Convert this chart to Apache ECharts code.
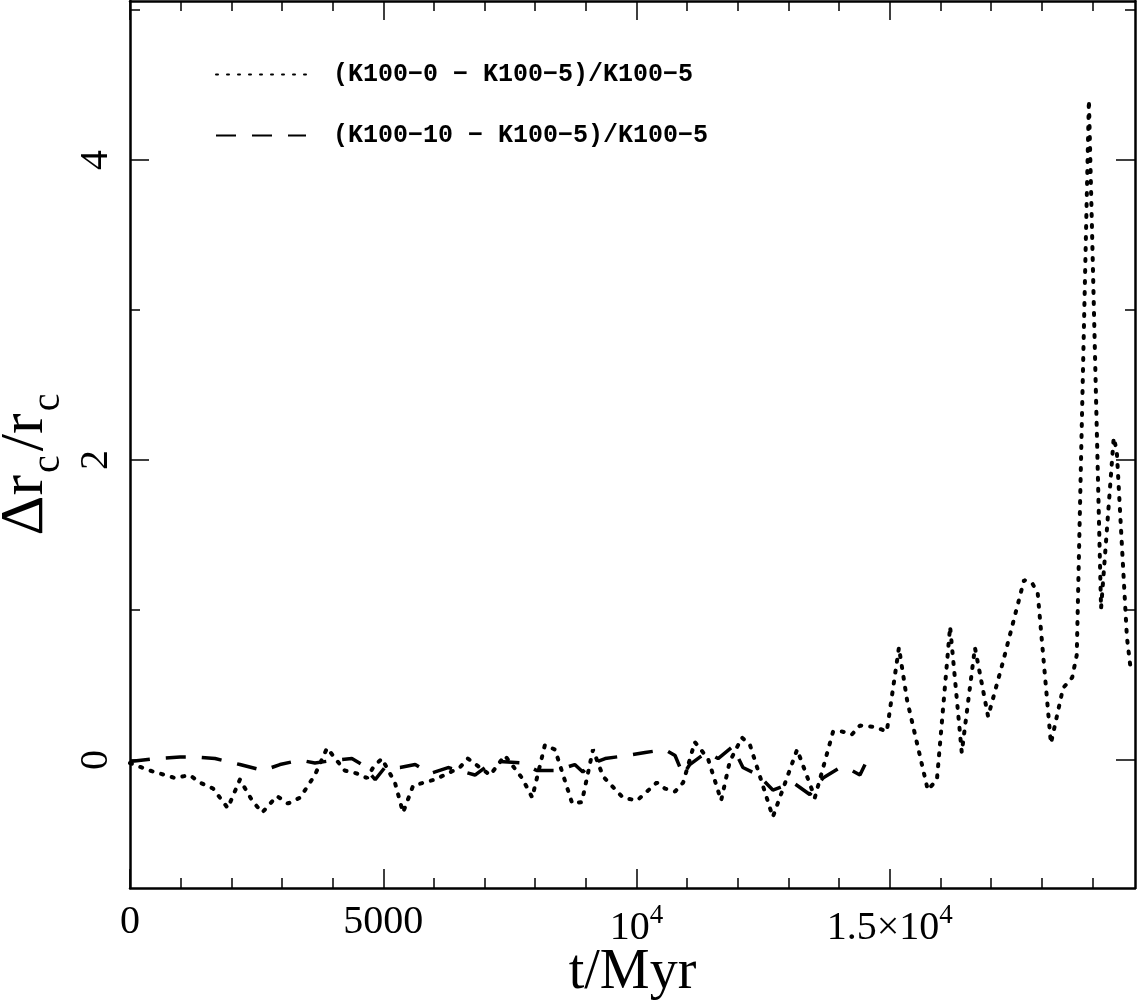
<!DOCTYPE html>
<html>
<head>
<meta charset="utf-8">
<script src="https://cdn.jsdelivr.net/npm/echarts@6/dist/echarts.min.js"></script>
<style>
html, body { margin: 0; padding: 0; background: #fff; }
#main { width: 1137px; height: 1002px; }
</style>
</head>
<body>
<div id="main"></div>
<script>
// (K100-0 - K100-5)/K100-5, dotted
var k0Time = [0, 390, 890, 1180, 1380, 1640, 1930, 2170, 2410, 2610, 2900, 3120, 3360, 3650, 3890, 4240, 4480, 4680, 4800, 4970,
    5230, 5390, 5590, 6020, 6510, 6670, 7110, 7400, 7740, 7940, 8190, 8390, 8730, 8920, 9140, 9340, 9730, 10010,
    10400, 10560, 10760, 10920, 11150, 11410, 11670, 11840, 12080, 12240, 12690, 13170, 13520, 13880, 14060, 14250,
    14410, 14710, 14940, 15180, 15340, 15750, 15930, 16190, 16420, 16680, 16940, 17230, 17650, 17810, 17920, 18180,
    18420, 18600, 18690, 18930, 19170, 19420, 19480, 19680, 19760];
var k0Ratio = [-0.02, -0.07, -0.12, -0.10, -0.15, -0.19, -0.32, -0.13, -0.27, -0.35, -0.24, -0.29, -0.25, -0.10, 0.08, -0.07, -0.09, -0.12, -0.05, 0.01,
    -0.15, -0.35, -0.17, -0.13, -0.05, 0.01, -0.10, 0.03, -0.12, -0.25, 0.10, 0.07, -0.29, -0.28, 0.07, -0.11, -0.25, -0.27,
    -0.15, -0.19, -0.21, -0.15, 0.12, 0.01, -0.27, -0.01, 0.15, 0.10, -0.38, 0.07, -0.25, 0.19, 0.19, 0.17,
    0.23, 0.22, 0.19, 0.75, 0.40, -0.20, -0.13, 0.89, 0.05, 0.75, 0.29, 0.65, 1.20, 1.18, 1.11, 0.11,
    0.48, 0.55, 0.70, 4.40, 1.01, 2.15, 2.06, 0.82, 0.59];

// (K100-10 - K100-5)/K100-5, dashed
var k10Time = [0, 490, 990, 1320, 1680, 2170, 2630, 2960, 3360, 3650, 4050, 4380, 4580, 4840, 5030, 5330, 5630, 5920, 6280,
    6610, 6810, 7010, 7300, 7740, 8030, 8430, 8780, 8940, 9080, 9380, 9810, 10170, 10560, 10760, 10920, 11050, 11250,
    11410, 11610, 11900, 12100, 12400, 12690, 13090, 13420, 13680, 14020, 14250, 14410, 14510];
var k10Ratio = [-0.01, 0.01, 0.02, 0.02, 0.01, -0.03, -0.07, -0.03, 0.00, -0.02, 0.00, 0.01, -0.03, -0.13, -0.05, -0.05, -0.03, -0.09, -0.05,
    -0.08, -0.10, -0.05, -0.01, -0.02, -0.07, -0.07, -0.03, -0.08, -0.03, 0.01, 0.03, 0.05, 0.07, 0.03, -0.10, -0.03, 0.02,
    0.05, 0.01, 0.09, -0.05, -0.10, -0.20, -0.15, -0.23, -0.12, -0.05, -0.07, -0.10, -0.03];

var seriesNames = ['(K100\u22120 \u2212 K100\u22125)/K100\u22125', '(K100\u221210 \u2212 K100\u22125)/K100\u22125'];

var xMajorTicks = [0, 5000, 10000, 15000];
var xTickLabels = ['0', '5000', '10{sup|4}', '1.5\u00d710{sup|4}'];
var xMinorTicks = [1000, 2000, 3000, 4000, 6000, 7000, 8000, 9000, 11000, 12000, 13000, 14000, 16000, 17000, 18000, 19000];
var yMajorTicks = [0, 2, 4];
var yMinorTicks = [1, 3, 5];

var X_MIN = 0, X_MAX = 19840;
var Y_MIN = -0.853, Y_MAX = 5.06;
var FONT = 'Liberation Serif';

function pairs(xs, ys) {
    return xs.map(function (x, i) { return [x, ys[i]]; });
}

function xAxisDef(grid, pos, ticks, len, main) {
    return {
        gridIndex: grid, type: 'value', position: pos, min: X_MIN, max: X_MAX,
        axisLine: { show: main, onZero: false, lineStyle: { color: '#000', width: 2.5 } },
        axisTick: { show: true, inside: true, length: len, customValues: ticks, lineStyle: { color: '#000', width: 1.5 } },
        axisLabel: { show: false },
        splitLine: { show: false }
    };
}

function yAxisDef(grid, pos, ticks, len, main) {
    return {
        gridIndex: grid, type: 'value', position: pos, min: Y_MIN, max: Y_MAX,
        axisLine: { show: main, onZero: false, lineStyle: { color: '#000', width: 2.5 } },
        axisTick: { show: true, inside: true, length: len, customValues: ticks, lineStyle: { color: '#000', width: 1.5 } },
        axisLabel: { show: false },
        splitLine: { show: false }
    };
}

var xBottom = xAxisDef(0, 'bottom', xMajorTicks, 19, true);
xBottom.axisLabel = {
    show: true, customValues: xMajorTicks, margin: 14, color: '#000',
    fontFamily: FONT, fontSize: 40,
    formatter: function (v) { return xTickLabels[xMajorTicks.indexOf(v)]; },
    rich: { sup: { fontFamily: FONT, fontSize: 27, color: '#000', padding: [0, 0, 26, 0] } }
};
xBottom.name = 't/Myr';
xBottom.nameLocation = 'middle';
xBottom.nameGap = 57;
xBottom.nameMoveOverlap = false;
xBottom.nameTextStyle = { fontFamily: FONT, fontSize: 56, color: '#000' };

var yLeft = yAxisDef(0, 'left', yMajorTicks, 19, true);
yLeft.axisLabel = {
    show: true, customValues: yMajorTicks, rotate: 90, margin: 14, color: '#000',
    fontFamily: FONT, fontSize: 40
};
yLeft.name = '{m|\u0394r}{s|c}{m|/r}{s|c}';
yLeft.nameLocation = 'middle';
yLeft.nameRotate = 90;
yLeft.nameGap = 62;
yLeft.nameTextStyle = {
    color: '#000',
    padding: [0, 40, 0, 0],
    rich: {
        m: { fontFamily: FONT, fontSize: 62, color: '#000', padding: [0, 2, 0, 2] },
        s: { fontFamily: FONT, fontSize: 40, color: '#000', padding: [44, 2, 0, 0] }
    }
};

var option = {
    backgroundColor: '#fff',
    animation: false,
    grid: [
        { left: 130, right: 2, top: 1, bottom: 114, outerBoundsMode: 'none', containLabel: false },
        { left: 130, right: 2, top: 1, bottom: 114, outerBoundsMode: 'none', containLabel: false }
    ],
    legend: {
        orient: 'vertical',
        left: 210,
        top: 57,
        itemWidth: 90,
        itemHeight: 26,
        itemGap: 36,
        data: seriesNames,
        itemStyle: { color: 'rgba(0,0,0,0)', borderWidth: 0 },
        textStyle: { fontFamily: 'Liberation Mono', fontWeight: 'bold', fontSize: 25, color: '#000', padding: [0, 0, 0, 22] }
    },
    xAxis: [
        xBottom,
        xAxisDef(0, 'top', xMajorTicks, 19, true),
        xAxisDef(1, 'bottom', xMinorTicks, 10, false),
        xAxisDef(1, 'top', xMinorTicks, 10, false)
    ],
    yAxis: [
        yLeft,
        yAxisDef(0, 'right', yMajorTicks, 19, true),
        yAxisDef(1, 'left', yMinorTicks, 10, false),
        yAxisDef(1, 'right', yMinorTicks, 10, false)
    ],
    series: [
        {
            name: seriesNames[0],
            type: 'line',
            xAxisIndex: 0, yAxisIndex: 0,
            symbol: 'none',
            lineStyle: { color: '#000', width: 4, type: [2, 9], cap: 'round' },
            data: pairs(k0Time, k0Ratio)
        },
        {
            name: seriesNames[1],
            type: 'line',
            xAxisIndex: 0, yAxisIndex: 0,
            symbol: 'none',
            lineStyle: { color: '#000', width: 3.5, type: [20, 16] },
            data: pairs(k10Time, k10Ratio)
        }
    ]
};

var chart = echarts.init(document.getElementById('main'));
chart.setOption(option);
</script>
</body>
</html>
